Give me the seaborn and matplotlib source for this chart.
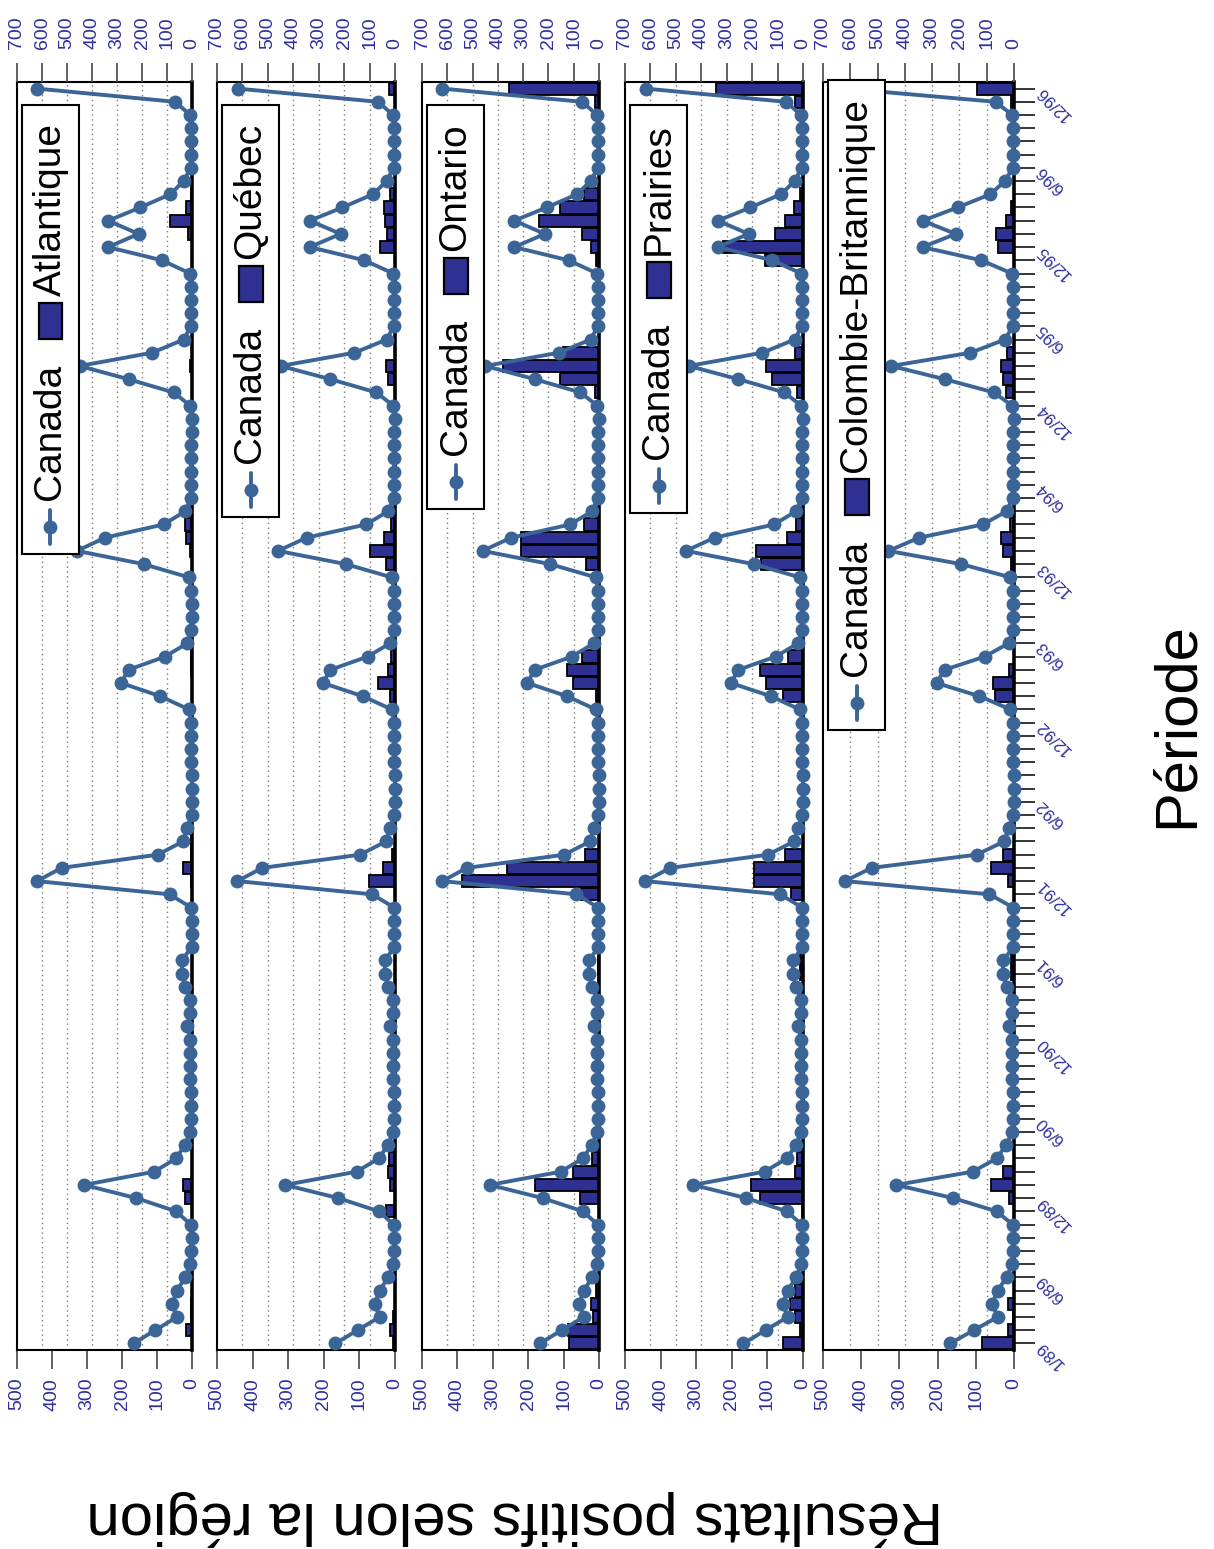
import numpy as np
import pandas as pd
import matplotlib
matplotlib.use("Agg")
import matplotlib.pyplot as plt
from matplotlib.patches import Rectangle
from matplotlib.lines import Line2D
import seaborn as sns

sns.set_theme(style="white")
plt.rcParams["font.family"] = ["Liberation Sans", "DejaVu Sans"]

# ---- data: monthly positive results, Jan 1989 .. Dec 1996 ----
months = [f"{m}/{y}" for y in range(89, 97) for m in range(1, 13)]
time_tick_labels = ["1/89", "6/89", "12/89", "6/90", "12/90", "6/91", "12/91",
                    "6/92", "12/92", "6/93", "12/93", "6/94", "12/94", "6/95",
                    "12/95", "6/96", "12/96"]
bar_ticks = [0, 100, 200, 300, 400, 500]
line_ticks = [0, 100, 200, 300, 400, 500, 600, 700]

canada = [234, 147, 60, 80, 60, 27, 7, 5, 2, 5, 64, 223,
          432, 151, 64, 29, 7, 5, 3, 3, 7, 7, 7, 7,
          20, 7, 7, 27, 40, 40, 2, 2, 2, 3, 90, 620,
          522, 137, 36, 20, 2, 1, 1, 0, 3, 4, 4, 3,
          13, 127, 284, 254, 107, 20, 3, 2, 2, 3, 13, 194,
          460, 348, 114, 27, 5, 5, 5, 3, 5, 2, 1, 7,
          74, 254, 450, 160, 33, 5, 3, 3, 5, 7, 120, 335,
          214, 335, 207, 87, 33, 5, 3, 5, 3, 7, 67, 619]

atlantique = [0, 16, 3, 3, 0, 0, 0, 0, 0, 0, 0, 21,
              27, 0, 0, 0, 0, 0, 0, 0, 0, 0, 0, 0,
              0, 0, 0, 0, 0, 0, 0, 0, 0, 0, 0, 4,
              26, 4, 4, 0, 0, 0, 0, 0, 0, 0, 0, 0,
              0, 0, 0, 4, 4, 0, 0, 0, 0, 0, 0, 0,
              5, 16, 19, 0, 0, 0, 0, 0, 0, 0, 0, 0,
              0, 0, 5, 0, 0, 0, 0, 0, 0, 0, 0, 0,
              12, 64, 17, 4, 0, 0, 0, 0, 0, 0, 0, 0]

quebec = [7, 13, 5, 0, 0, 0, 0, 0, 0, 0, 25, 0,
          13, 19, 16, 0, 0, 0, 0, 0, 0, 0, 0, 0,
          0, 0, 0, 0, 0, 0, 0, 0, 0, 0, 0, 72,
          35, 9, 0, 0, 0, 0, 0, 0, 0, 0, 0, 0,
          0, 13, 49, 21, 11, 0, 0, 0, 0, 0, 0, 25,
          70, 30, 10, 0, 0, 0, 0, 0, 0, 0, 0, 0,
          0, 21, 25, 0, 0, 0, 0, 0, 0, 0, 0, 41,
          22, 28, 32, 13, 0, 0, 0, 0, 0, 0, 0, 16]

ontario = [84, 87, 17, 23, 8, 0, 0, 0, 0, 0, 0, 54,
           181, 73, 19, 0, 0, 0, 0, 0, 0, 0, 0, 0,
           0, 0, 0, 0, 4, 4, 0, 0, 0, 0, 50, 387,
           261, 40, 0, 0, 0, 0, 0, 0, 0, 0, 0, 0,
           0, 9, 73, 90, 47, 0, 0, 0, 0, 0, 0, 38,
           220, 220, 43, 0, 0, 0, 0, 0, 0, 0, 0, 0,
           12, 109, 272, 101, 0, 0, 0, 0, 0, 0, 9, 23,
           48, 169, 111, 43, 0, 0, 0, 0, 0, 0, 10, 254]

prairies = [56, 9, 23, 37, 23, 0, 0, 0, 0, 0, 3, 121,
            145, 23, 16, 0, 0, 0, 0, 0, 0, 0, 0, 0,
            0, 0, 0, 0, 9, 9, 0, 0, 0, 0, 33, 137,
            137, 50, 0, 0, 0, 0, 0, 0, 0, 0, 0, 0,
            0, 56, 105, 120, 42, 0, 0, 0, 0, 0, 0, 117,
            131, 45, 19, 0, 0, 0, 0, 0, 0, 0, 0, 0,
            16, 86, 103, 23, 0, 0, 0, 0, 0, 0, 107, 225,
            79, 51, 26, 9, 0, 0, 0, 0, 0, 0, 23, 243]

colombie_britannique = [83, 16, 2, 16, 0, 0, 0, 0, 0, 0, 0, 13,
                        61, 30, 0, 0, 0, 0, 0, 0, 0, 0, 0, 0,
                        0, 0, 0, 0, 9, 9, 0, 0, 0, 0, 0, 15,
                        59, 29, 0, 0, 0, 0, 0, 0, 0, 0, 0, 0,
                        0, 50, 55, 13, 0, 0, 0, 0, 0, 0, 0, 9,
                        30, 35, 10, 0, 0, 0, 0, 0, 0, 0, 0, 0,
                        22, 30, 33, 19, 0, 0, 0, 0, 0, 0, 0, 41,
                        48, 22, 9, 0, 0, 0, 0, 0, 0, 0, 9, 98]

region_names = ["Atlantique", "Québec", "Ontario", "Prairies", "Colombie-Britannique"]

df = pd.DataFrame({
    "mois": months,
    "pos": np.arange(len(months)),
    "Canada": canada,
    "Atlantique": atlantique,
    "Québec": quebec,
    "Ontario": ontario,
    "Prairies": prairies,
    "Colombie-Britannique": colombie_britannique,
})

# ---- styling ----
LINE = "#3B6497"
BAR = "#2E3192"
TICK = "#2F2F9E"
LEG_FS = 28
TICK_FS = 14
TIME_FS = 12

W, H = 1214, 1549
fig = plt.figure(figsize=(W / 100, H / 100), dpi=100)
renderer = fig.canvas.get_renderer()

TOP, BOTTOM = 82, 1350
frames = [(17, 192), (217, 395), (422, 599), (625, 803), (823, 1014)]
legend_tops = [105, 105, 105, 105, 80]


def add_legend(x_left, top, label):
    cx = x_left + 28.5
    y = top + 18
    t1 = fig.text(cx / W, 1 - y / H, label, rotation=90, ha="center", va="top",
                  fontsize=LEG_FS, color="black", zorder=4)
    y += t1.get_window_extent(renderer).height + 7
    fig.add_artist(Rectangle(((cx - 12) / W, 1 - (y + 36) / H), 24 / W, 36 / H,
                             transform=fig.transFigure, facecolor=BAR,
                             edgecolor="black", lw=1.6, zorder=4))
    y += 36 + 25
    t2 = fig.text(cx / W, 1 - y / H, "Canada", rotation=90, ha="center", va="top",
                  fontsize=LEG_FS, color="black", zorder=4)
    y += t2.get_window_extent(renderer).height + 10
    fig.add_artist(Line2D([cx / W, cx / W], [1 - y / H, 1 - (y + 34) / H],
                          transform=fig.transFigure, color=LINE, lw=2.8, zorder=4))
    fig.add_artist(Line2D([cx / W], [1 - (y + 17) / H], marker="o", ms=10,
                          mew=0, color=LINE, transform=fig.transFigure, zorder=4))
    y += 34 + 10
    fig.add_artist(Rectangle((x_left / W, 1 - y / H), 57 / W, (y - top) / H,
                             transform=fig.transFigure, facecolor="white",
                             edgecolor="black", lw=1.5, zorder=3))


for k, (name, (x0, x1), ltop) in enumerate(zip(region_names, frames, legend_tops)):
    ax = fig.add_axes([x0 / W, 1 - BOTTOM / H, (x1 - x0) / W, (BOTTOM - TOP) / H])

    # regional bars on the 0-500 scale
    sns.barplot(data=df, x=name, y="pos", orient="h", native_scale=True,
                color=BAR, saturation=1, edgecolor="black", linewidth=1.3,
                width=0.92, errorbar=None, ax=ax)
    ax.set_xlim(500, 0)
    ax.set_ylim(-0.5, 95.5)

    # dotted grid following the 0-700 Canada scale
    ax.set_xticks(np.array(line_ticks[1:-1]) * 500 / 700, minor=True)
    ax.grid(which="minor", axis="x", color="#7a7a7a", linestyle=(0, (1, 2.5)), linewidth=1.0)
    ax.grid(which="major", visible=False)

    ax.set_xticks(bar_ticks)
    ax.set_xticklabels([str(v) for v in bar_ticks])
    ax.tick_params(axis="x", which="major", bottom=True, direction="out", length=14,
                   width=1.3, color="#555555", labelrotation=90, labelsize=TICK_FS,
                   labelcolor=TICK, pad=6)
    ax.tick_params(axis="x", which="minor", length=0)
    ax.set_xlabel("")
    ax.set_ylabel("")

    if k == len(region_names) - 1:
        ax.yaxis.set_ticks_position("right")
        ax.set_yticks(df["pos"])
        ax.set_yticklabels([m if m in time_tick_labels else "" for m in months])
        ax.tick_params(axis="y", right=True, left=False, direction="out", length=15,
                       width=1.1, color="black", labelsize=TIME_FS,
                       labelcolor=TICK, pad=3)
        for lbl in ax.get_yticklabels():
            lbl.set_rotation(135)
            lbl.set_rotation_mode("anchor")
            lbl.set_ha("right")
            lbl.set_va("center")
    else:
        ax.set_yticks([])

    for side, sp in ax.spines.items():
        sp.set_visible(True)
        sp.set_color("black")
        sp.set_linewidth(1.5)
    ax.spines["right"].set_linewidth(2.6)

    # Canada line on the 0-700 scale
    ax2 = ax.twiny()
    sns.lineplot(data=df, x="Canada", y="pos", orient="y", sort=False, estimator=None,
                 color=LINE, lw=2.8, marker="o", markersize=10, markeredgewidth=0,
                 clip_on=False, ax=ax2)
    ax2.set_xlim(700, 0)
    ax2.set_ylim(-0.5, 95.5)
    ax2.set_xticks(line_ticks)
    ax2.set_xticklabels([str(v) for v in line_ticks])
    ax2.tick_params(axis="x", top=True, bottom=False, direction="out", length=14,
                    width=1.3, color="#555555", labelrotation=90, labelsize=TICK_FS,
                    labelcolor=TICK, pad=10)
    ax2.set_xlabel("")
    ax2.set_ylabel("")
    for sp in ax2.spines.values():
        sp.set_visible(False)

    add_legend(x0 + 5, ltop, name)

fig.text(515 / W, 1 - 1518 / H, "Résultats positifs selon la région", rotation=180,
         ha="center", va="center", fontsize=43, color="black")
fig.text(1177 / W, 1 - 725 / H, "Période", rotation=90,
         ha="center", va="center", fontsize=43, color="black")

fig.savefig("out.png", dpi=100)
